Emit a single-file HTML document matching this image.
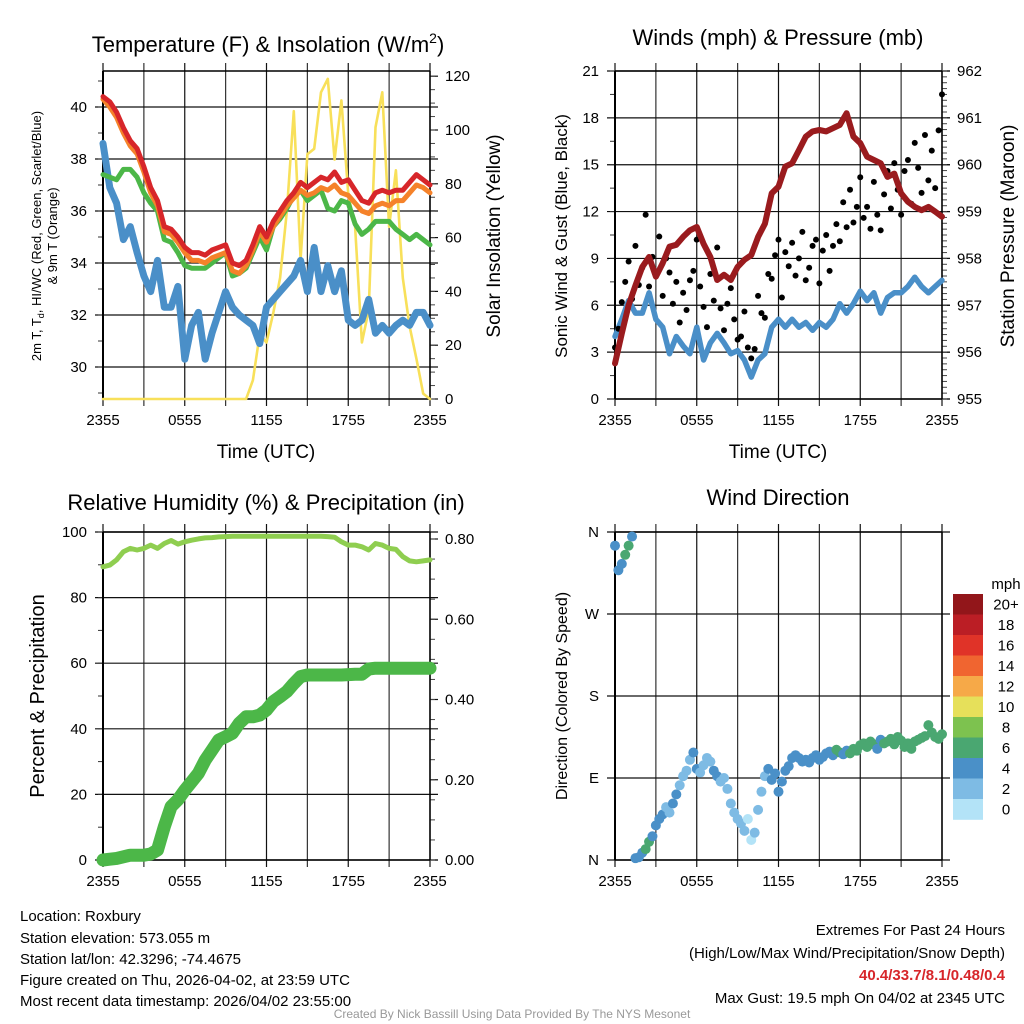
<!DOCTYPE html>
<html><head><meta charset="utf-8"><title>Roxbury Meteogram</title>
<style>
html,body{margin:0;padding:0;background:#fff;}
svg{display:block;font-family:"Liberation Sans",Arial,sans-serif;}
</style></head>
<body>
<svg id="chart" width="1024" height="1024" viewBox="0 0 1024 1024" xmlns="http://www.w3.org/2000/svg">
<rect x="0" y="0" width="1024" height="1024" fill="#fff"/>
<text x="268" y="52" font-size="22" text-anchor="middle">Temperature (F) &amp; Insolation (W/m<tspan font-size="14" dy="-9">2</tspan><tspan dy="9">)</tspan></text>
<text x="778" y="45" font-size="22" text-anchor="middle">Winds (mph) &amp; Pressure (mb)</text>
<text x="266" y="510" font-size="22" text-anchor="middle">Relative Humidity (%) &amp; Precipitation (in)</text>
<text x="778" y="505" font-size="22" text-anchor="middle">Wind Direction</text>
<text x="266" y="458" font-size="19" text-anchor="middle">Time (UTC)</text>
<text x="778" y="458" font-size="19" text-anchor="middle">Time (UTC)</text>
<text transform="translate(41,236) rotate(-90)" font-size="13" text-anchor="middle">2m T, T<tspan font-size="9" dy="3">d</tspan><tspan dy="-3">, HI/WC (Red, Green, Scarlet/Blue)</tspan></text>
<text transform="translate(57,236) rotate(-90)" font-size="13" text-anchor="middle">&amp; 9m T (Orange)</text>
<text transform="translate(500,236) rotate(-90)" font-size="19" text-anchor="middle">Solar Insolation (Yellow)</text>
<text transform="translate(567,236) rotate(-90)" font-size="17" text-anchor="middle">Sonic Wind &amp; Gust (Blue, Black)</text>
<text transform="translate(1014,236) rotate(-90)" font-size="19" text-anchor="middle">Station Pressure (Maroon)</text>
<text transform="translate(44,696) rotate(-90)" font-size="20" text-anchor="middle">Percent &amp; Precipitation</text>
<text transform="translate(567,696) rotate(-90)" font-size="16" text-anchor="middle">Direction (Colored By Speed)</text>
<g font-size="15">
<text x="20" y="921">Location: Roxbury</text>
<text x="20" y="943">Station elevation: 573.055 m</text>
<text x="20" y="964">Station lat/lon: 42.3296; -74.4675</text>
<text x="20" y="985">Figure created on Thu, 2026-04-02, at 23:59 UTC</text>
<text x="20" y="1006">Most recent data timestamp: 2026/04/02 23:55:00</text>
</g>
<g font-size="15" text-anchor="end">
<text x="1005" y="935">Extremes For Past 24 Hours</text>
<text x="1005" y="958">(High/Low/Max Wind/Precipitation/Snow Depth)</text>
<text x="1005" y="980" fill="#d7262a" font-weight="bold">40.4/33.7/8.1/0.48/0.4</text>
<text x="1005" y="1003">Max Gust: 19.5 mph On 04/02 at 2345 UTC</text>
</g>
<text x="512" y="1018" font-size="12" fill="#999" text-anchor="middle">Created By Nick Bassill Using Data Provided By The NYS Mesonet</text>
</svg>
<script>
const timeLabels = ["2355","0555","1155","1755","2355"];
const tempTicks = [30,32,34,36,38,40];
const insolTicks = [0,20,40,60,80,100,120];
const windTicks = [0,3,6,9,12,15,18,21];
const presTicks = [955,956,957,958,959,960,961,962];
const rhTicks = [0,20,40,60,80,100];
const precipTicks = [0,0.2,0.4,0.6,0.8];
const dirTicks = [0,90,180,270,360];
const dirLabels = ["N","E","S","W","N"];
const speedBinLabels = ["20+","18","16","14","12","10","8","6","4","2","0"];
const speedBinColors = ["#92161a","#bb1e25","#e03328","#f06530","#f6a948","#e6e05a","#7dc24f","#4aa771","#4a90c8","#7ebbe4","#b3e3f7"];

const temp2m = [40.4,40.2,39.8,39.2,38.7,38.4,37.7,36.9,36.4,35.4,35.3,35.0,34.6,34.4,34.4,34.3,34.5,34.6,34.7,34.0,33.9,34.1,34.7,35.4,35.0,35.6,36.0,36.4,36.7,37.1,36.9,37.1,37.3,37.2,37.5,37.1,37.2,36.8,36.4,36.3,36.7,36.8,36.7,36.8,36.8,37.1,37.4,37.2,37.0];
const temp9m = [40.3,40.0,39.6,39.0,38.5,38.2,37.5,36.7,36.2,35.2,35.1,34.8,34.4,34.1,34.1,34.0,34.2,34.3,34.4,33.7,33.6,33.9,34.5,35.2,34.8,35.4,35.8,36.2,36.5,36.8,36.6,36.7,36.9,36.8,37.0,36.7,36.6,36.3,36.0,35.9,36.2,36.3,36.2,36.4,36.4,36.7,37.0,36.9,36.7];
const heatIndex = [37.4,37.3,37.2,37.6,37.6,37.3,36.7,36.3,36.0,34.9,34.8,34.4,33.9,33.8,33.8,33.8,34.0,34.2,34.4,33.5,33.6,33.8,34.4,35.0,34.5,35.4,35.7,36.1,36.6,36.8,36.4,36.6,36.8,36.1,36.0,36.4,36.3,35.5,35.1,35.3,35.6,35.6,35.6,35.3,35.1,34.9,35.1,34.9,34.7];
const dewPoint = [38.6,36.9,36.3,34.9,35.4,34.4,33.5,32.9,34.1,32.3,32.3,33.1,30.3,31.6,32.1,30.3,31.3,32.1,32.9,32.3,32.0,31.8,31.6,30.9,32.3,32.6,32.9,33.2,33.5,34.1,32.9,34.6,32.9,33.9,32.9,33.7,31.8,31.6,31.8,32.6,31.3,31.6,31.3,31.6,31.8,31.6,32.1,32.1,31.6];
const insolation = [0,0,0,0,0,0,0,0,0,0,0,0,0,0,0,0,0,0,0,0,0,0,7,24,21,32,45,70,107,52,91,93,114,119,89,111,76,64,21,33,101,114,64,85,45,27,15,2,0];

const sonicWind = [4.0,5.1,6.3,5.5,5.5,6.8,5.1,4.6,2.9,4.0,3.4,2.9,4.6,2.5,3.6,4.2,3.6,2.9,3.1,2.5,1.4,2.5,2.9,4.6,5.1,4.6,5.1,4.6,4.9,4.4,4.9,4.6,5.1,6.1,5.5,6.1,6.9,6.3,6.8,5.5,6.5,6.8,6.8,7.2,7.8,7.2,6.8,7.2,7.6];
const pressure = [955.76,956.40,957.00,957.42,957.82,958.03,957.61,957.90,958.25,958.29,958.46,958.60,958.67,958.31,958.03,957.54,957.65,957.54,957.82,957.97,958.07,958.46,958.74,959.39,959.53,959.96,960.03,960.31,960.60,960.71,960.74,960.71,960.78,960.85,961.10,960.60,960.46,960.17,960.10,960.03,959.74,959.81,959.39,959.21,959.10,959.03,959.10,959.00,958.89];
const gusts = [3.3,4.5,6.2,7.5,8.8,6.4,9.8,7.3,8.4,11.8,7.2,9.1,8.0,
10.4,6.6,9.0,8.1,6.1,7.5,4.9,6.8,5.7,7.6,8.2,10.2,
7.2,5.9,4.6,8.0,6.3,9.7,5.8,4.4,6.1,7.1,5.1,3.8,4.0,5.6,3.3,2.6,
3.2,6.6,5.5,5.2,
8.0,7.7,9.2,10.2,6.5,9.4,8.5,10.0,7.9,9.0,10.7,7.6,
8.4,9.8,10.2,7.4,9.5,10.5,8.2,9.8,11.2,10.1,12.6,11.0,
13.4,11.3,12.3,14.2,11.6,12.3,10.9,13.9,11.8,10.8,13.1,14.6,
12.2,15.1,13.4,11.8,14.6,15.3,12.5,16.4,14.8,13.2,16.9,14.0,15.9,13.5,17.2,19.5];

const relHumidity = [89.4,89.9,91.5,94.0,95.0,94.5,95.0,96.0,95.0,96.5,97.4,96.3,97.0,97.5,97.9,98.2,98.3,98.5,98.6,98.7,98.7,98.7,98.7,98.7,98.7,98.7,98.7,98.7,98.7,98.7,98.7,98.7,98.7,98.6,98.4,97.0,96.0,96.0,95.5,94.5,96.5,96.0,95.0,94.7,92.5,91.2,90.9,91.2,91.5];
const precip = [0.0,0.002,0.004,0.008,0.012,0.012,0.012,0.015,0.025,0.083,0.133,0.15,0.174,0.195,0.216,0.249,0.274,0.299,0.307,0.316,0.341,0.357,0.357,0.361,0.374,0.395,0.407,0.42,0.44,0.457,0.461,0.461,0.461,0.461,0.461,0.461,0.462,0.463,0.463,0.476,0.478,0.478,0.478,0.478,0.478,0.478,0.478,0.478,0.478];

const windDir = [345,318,325,335,345,355,2,3,8,12,20,26,38,45,50,58,52,62,72,82,92,98,110,118,100,96,104,112,108,98,92,86,90,78,62,52,45,40,32,45,22,30,55,75,92,100,88,95,75,86,98,103,112,115,112,108,110,107,112,115,110,113,117,119,115,121,118,116,120,117,122,120,126,128,124,130,127,122,132,128,130,133,127,135,131,124,128,122,130,132,134,136,148,140,135,133,138];

const NS='http://www.w3.org/2000/svg';
const svg=document.getElementById('chart');
function mk(tag,attrs,parent){const e=document.createElementNS(NS,tag);for(const k in attrs)e.setAttribute(k,attrs[k]);(parent||svg).appendChild(e);return e;}
function txt(x,y,s,attrs,parent){const e=mk('text',Object.assign({x:x,y:y},attrs),parent);e.textContent=s;return e;}

const P1={x0:103,x1:430,y0:71,y1:399,name:'temp'};
const P2={x0:615,x1:942,y0:71,y1:399,name:'wind'};
const P3={x0:103,x1:430,y0:532,y1:860,name:'rh'};
const P4={x0:615,x1:942,y0:532,y1:860,name:'direction'};
function xs(p,t){return p.x0+t/24*(p.x1-p.x0);}
const yTemp=v=>367-(v-30)*26;
const yIns=v=>399-v*2.69;
const yWind=v=>399-v*(328/21);
const yPres=v=>399-(v-955)*(328/7);
const yRH=v=>860-v*3.28;
const yPrecip=v=>860-v*(321/0.8);
const yDir=v=>860-v*(328/360);

function frame(p,leftTicks,leftLbl,leftY,minorLeft,rightTicks,rightLbl,rightY,minorRight){
  const g=mk('g',{});
  
  
  for(let k=0;k<=8;k++){
    const x=xs(p,k*3);
    const l=mk('line',{x1:x,x2:x,y1:p.y0-8,y2:p.y1+7,stroke:(k%2?'#333':'#111'),'stroke-width':1.2},g);
    
    
  }
  timeLabels.forEach((s,k)=>{
    const t=txt(xs(p,k*6),p.y1+26,s,{'font-size':15,'text-anchor':'middle'},g);
    
    
  });
  leftTicks.forEach((v,k)=>{
    const y=leftY(v);
    const l=mk('line',{x1:p.x0-8,x2:p.x1+8,y1:y,y2:y,stroke:'#111','stroke-width':1.2},g);
    
    
    const t=txt(p.x0-16,y+5,leftLbl[k],{'font-size':15,'text-anchor':'end'},g);
    
    
  });
  minorLeft.forEach(v=>{
    const y=leftY(v);
    const l=mk('line',{x1:p.x0-5,x2:p.x0,y1:y,y2:y,stroke:'#333','stroke-width':1},g);
    
    
  });
  rightTicks.forEach((v,k)=>{
    const y=rightY(v);
    const l=mk('line',{x1:p.x1,x2:p.x1+8,y1:y,y2:y,stroke:'#111','stroke-width':1.2},g);
    
    
    const t=txt(p.x1+15,y+5,rightLbl[k],{'font-size':15,'text-anchor':'start'},g);
    
    
  });
  minorRight.forEach(v=>{
    const y=rightY(v);
    const l=mk('line',{x1:p.x1,x2:p.x1+5,y1:y,y2:y,stroke:'#444','stroke-width':1},g);
    
    
  });
  const b1=mk('line',{x1:p.x0,x2:p.x0,y1:p.y0,y2:p.y1,stroke:'#000','stroke-width':2},g);
  
  
  const b2=mk('line',{x1:p.x1,x2:p.x1,y1:p.y0,y2:p.y1,stroke:'#000','stroke-width':1.5},g);
  
  
  const b3=mk('line',{x1:p.x0,x2:p.x1,y1:p.y0,y2:p.y0,stroke:'#000','stroke-width':1.5},g);
  
  
  const b4=mk('line',{x1:p.x0,x2:p.x1,y1:p.y1,y2:p.y1,stroke:'#000','stroke-width':1.5},g);
  
  
}
function range(a,b,s){const r=[];for(let v=a;v<=b+1e-9;v+=s)r.push(+v.toFixed(4));return r;}
function series(p,vals,yf,color,w,name){
  const pts=vals.map((v,i)=>xs(p,i*24/(vals.length-1)).toFixed(1)+','+yf(v).toFixed(1)).join(' ');
  const e=mk('polyline',{points:pts,fill:'none',stroke:color,'stroke-width':w,'stroke-linejoin':'round','stroke-linecap':'round'});
  
  
  return e;
}

frame(P1,tempTicks,tempTicks.map(String),yTemp,range(29,41,1),insolTicks,insolTicks.map(String),yIns,range(0,120,5));
series(P1,insolation,yIns,'#f8e05a',2.6,'insolation-line');
series(P1,dewPoint,yTemp,'#4a8fc8',7,'dewpoint-line');
series(P1,heatIndex,yTemp,'#4cb748',5,'heat-index-line');
series(P1,temp9m,yTemp,'#f5822a',5,'temp-9m-line');
series(P1,temp2m,yTemp,'#d7262a',5,'temp-2m-line');

frame(P2,windTicks,windTicks.map(String),yWind,range(0,21,1.5),presTicks,presTicks.map(String),yPres,range(955,962,0.125));
series(P2,sonicWind,yWind,'#4a8fc8',5.5,'sonic-wind-line');
const gustGroup=mk('g',{});


gusts.forEach((v,i)=>{
  const c=mk('circle',{cx:xs(P2,i*24/(gusts.length-1)),cy:yWind(v),r:3,fill:'#000'},gustGroup);
  
  
});
series(P2,pressure,yPres,'#9a1b1e',6,'pressure-line');

frame(P3,rhTicks,rhTicks.map(String),yRH,range(0,100,10),precipTicks,precipTicks.map(v=>v.toFixed(2)),yPrecip,range(0,0.8,0.05));
series(P3,relHumidity,yRH,'#8fce50',5,'rh-line');
series(P3,precip,yPrecip,'#4cb748',13,'precip-line');

frame(P4,dirTicks,dirLabels,yDir,[],[],[],yDir,[]);
function speedColor(s){const bin=Math.min(10,Math.floor(s/2));return speedBinColors[10-bin];}
const dirGroup=mk('g',{});


windDir.forEach((d,i)=>{
  const t=i*24/(windDir.length-1);
  const spd=sonicWind[Math.round(t*2)];
  const c=mk('circle',{cx:xs(P4,t),cy:yDir(d),r:5,fill:speedColor(spd)},dirGroup);
  
  
});
const cb=mk('g',{});


const cbt=txt(1006,589,'mph',{'font-size':15,'text-anchor':'middle'},cb);


speedBinColors.forEach((col,k)=>{
  const r=mk('rect',{x:953,y:594+k*20.5,width:30,height:20.8,fill:col},cb);
  
  
  const t=txt(1006,594+k*20.5+15.5,speedBinLabels[k],{'font-size':15,'text-anchor':'middle'},cb);
  
  
});
</script>
</body></html>
